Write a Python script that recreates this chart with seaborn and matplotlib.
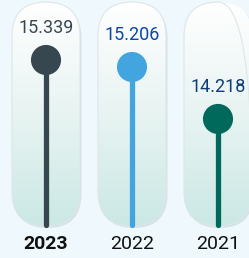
import numpy as np
import matplotlib
matplotlib.use("Agg")
import matplotlib.pyplot as plt
import seaborn as sns
from matplotlib.patches import FancyBboxPatch

years = ["2023", "2022", "2021"]
values = [15.339, 15.206, 14.218]
colors = ["#37474f", "#42a5e0", "#00695c"]
label_colors = ["#37474f", "#0d47a1", "#0d3c7a"]

sns.set_theme(style="white")
plt.rcParams["font.family"] = ["Roboto", "DejaVu Sans"]

bg = "#eff8fc"
fig = plt.figure(figsize=(2.49, 2.58), dpi=100, facecolor=bg)
W, H = 249, 258
# axes spans from top of figure down to y=232px
ax = fig.add_axes([0, (H - 232) / H, 1, 232 / H])
ax.set_facecolor(bg)

xpx = 86.0      # px per category
ypx = 52.6      # px per value unit
x0 = -46 / xpx
ax.set_xlim(x0, x0 + W / xpx)
ytop = values[0] + 60 / ypx
ax.set_ylim(ytop - 232 / ypx, ytop)

base = ytop - 225 / ypx
cap_top = ytop - 2 / ypx
cap_bot = ytop - 226 / ypx
half_w = 34 / xpx

grad = np.linspace(0, 1, 256).reshape(-1, 1)
cmap = matplotlib.colors.LinearSegmentedColormap.from_list(
    "cap", ["#ffffff", "#e8f4f2", "#cbe8e5"])

for i in range(len(years)):
    shadow = FancyBboxPatch((i - half_w + 1.5 / xpx, cap_bot - 2 / ypx), 2 * half_w, cap_top - cap_bot,
                            boxstyle=f"round,pad=0,rounding_size={half_w}",
                            mutation_aspect=xpx / ypx, fc="#d5e3e8", ec="none", zorder=0.5)
    ax.add_patch(shadow)
    cap = FancyBboxPatch((i - half_w, cap_bot), 2 * half_w, cap_top - cap_bot,
                         boxstyle=f"round,pad=0,rounding_size={half_w}",
                         mutation_aspect=xpx / ypx, fc="none", ec="#dde6e9", lw=0.8, zorder=2)
    ax.add_patch(cap)
    im = ax.imshow(grad, cmap=cmap, aspect="auto", zorder=1,
                   extent=(i - half_w, i + half_w, cap_bot, cap_top))
    im.set_clip_path(cap)

for i, (v, c) in enumerate(zip(values, colors)):
    ax.plot([i, i], [base, v], color=c, lw=3.8, solid_capstyle="round", zorder=3)

sns.scatterplot(x=range(len(years)), y=values, hue=years, palette=colors,
                s=470, edgecolor="none", legend=False, zorder=4, ax=ax)

for i, (v, lc) in enumerate(zip(values, label_colors)):
    ax.annotate(f"{v:.3f}", (i, v), xytext=(0, 23), textcoords="offset points",
                ha="center", va="center", fontsize=13, color=lc, zorder=5)

ax.set_xticks(range(len(years)))
ax.set_xticklabels(years, fontsize=14, color="#111111")
ax.get_xticklabels()[0].set_fontweight("bold")
ax.tick_params(axis="x", length=0, pad=2)
ax.set_yticks([])
for s in ax.spines.values():
    s.set_visible(False)

fig.savefig("out.png", dpi=100, facecolor=bg)
